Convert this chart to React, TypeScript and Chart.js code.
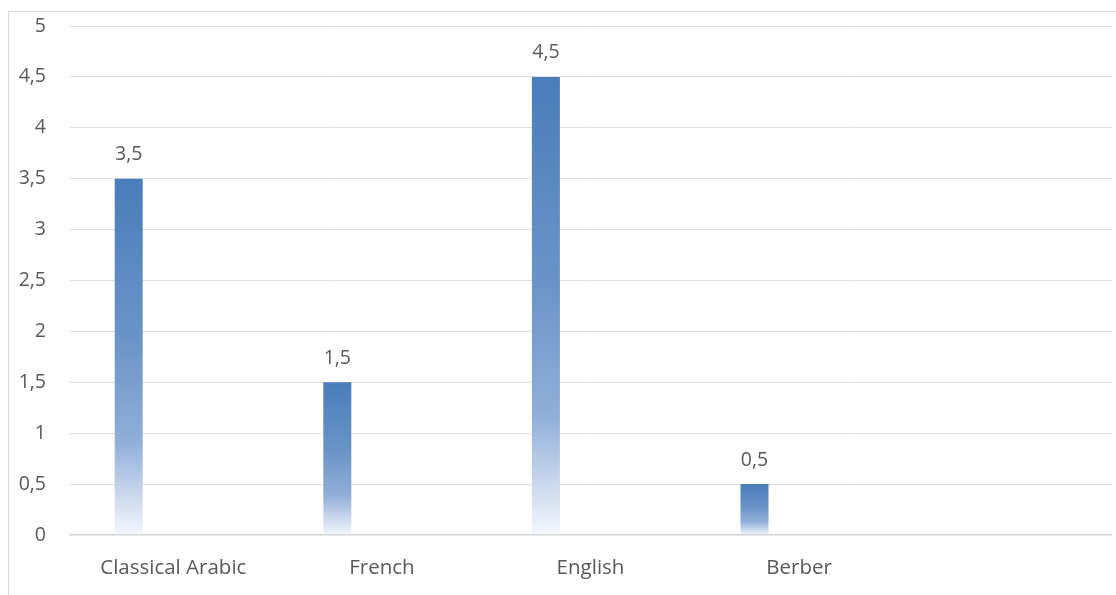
import React, { useEffect, useRef } from "react";
import { Chart, registerables } from "chart.js";

Chart.register(...registerables);

const categories = ["Classical Arabic", "French", "English", "Berber", ""];
const values = [3.5, 1.5, 4.5, 0.5, null];
const emptySeries = [null, null, null, null, null];
const yTicks = [0, 0.5, 1, 1.5, 2, 2.5, 3, 3.5, 4, 4.5, 5];

const FONT = "'Open Sans', sans-serif";
const FSIZE = 19.5;
const XSIZE = 20.5;
const TEXT = "#595959";

const fmt = (v: number) => String(v).replace(".", ",");

const labelPlugin = {
  id: "valueLabels",
  afterDatasetsDraw(chart: any) {
    const ctx = chart.ctx;
    const meta = chart.getDatasetMeta(0);
    ctx.save();
    ctx.font = `${FSIZE}px ${FONT}`;
    ctx.fillStyle = TEXT;
    ctx.textAlign = "center";
    ctx.textBaseline = "middle";
    meta.data.forEach((el: any, i: number) => {
      const v = values[i];
      if (v == null) return;
      ctx.fillText(fmt(v), el.x, el.y - 24);
    });
    ctx.restore();
  },
};

export default function App() {
  const ref = useRef<HTMLCanvasElement>(null);
  useEffect(() => {
    document.body.style.margin = "0";
    const canvas = ref.current!;
    const chart = new Chart(canvas, {
      type: "bar",
      data: {
        labels: categories,
        datasets: [
          {
            data: values as any,
            backgroundColor: (c: any) => {
              const ch = c.chart;
              const ys = ch.scales?.y;
              const v = c.raw;
              if (!ys || v == null) return "#4f81bd";
              const top = ys.getPixelForValue(v);
              const bottom = ys.getPixelForValue(0);
              if (!isFinite(top) || !isFinite(bottom) || top === bottom) return "#4f81bd";
              const g = ch.ctx.createLinearGradient(0, top, 0, bottom);
              g.addColorStop(0, "#4a7dbb");
              g.addColorStop(0.45, "#6a94c7");
              g.addColorStop(0.74, "#90afd9");
              g.addColorStop(0.88, "#c6d6ec");
              g.addColorStop(1, "#f4f7fc");
              return g;
            },
            borderWidth: 0,
            categoryPercentage: 0.855,
            barPercentage: 0.314,
          },
          {
            data: emptySeries as any,
            backgroundColor: "#ffffff",
            categoryPercentage: 0.855,
            barPercentage: 0.314,
          },
        ],
      },
      options: {
        animation: false,
        responsive: false,
        maintainAspectRatio: false,
        layout: { padding: { left: 0, top: 26, right: 4, bottom: 0 } },
        plugins: {
          legend: { display: false },
          tooltip: { enabled: false },
        },
        scales: {
          x: {
            grid: { display: false, drawTicks: false },
            border: { display: false },
            ticks: {
              color: TEXT,
              font: { family: FONT, size: XSIZE },
              padding: 21,
              maxRotation: 0,
              autoSkip: false,
            },
            afterFit: (s: any) => {
              s.height = 60;
              s.paddingLeft = 0;
              s.paddingRight = 0;
            },
          },
          y: {
            min: 0,
            max: 5,
            afterBuildTicks: (s: any) => {
              s.ticks = yTicks.map((v) => ({ value: v }));
            },
            grid: {
              color: (c: any) => (c.tick && c.tick.value === 0 ? "#d0d0d0" : "#e0e0e0"),
              lineWidth: (c: any) => (c.tick && c.tick.value === 0 ? 1.5 : 1),
              drawTicks: false,
            },
            border: { display: false },
            ticks: {
              color: TEXT,
              font: { family: FONT, size: FSIZE },
              padding: 23,
              callback: (v: any) => fmt(Number(v)),
            },
            afterFit: (s: any) => {
              s.width = 69;
              s.paddingTop = 0;
              s.paddingBottom = 0;
            },
          },
        },
      },
      plugins: [labelPlugin],
    });
    return () => chart.destroy();
  }, []);

  return (
    <div style={{ position: "relative", width: 1116, height: 595, overflow: "hidden", background: "#fff" }}>
      <div
        style={{
          position: "absolute",
          left: 8,
          top: 11,
          width: 1200,
          height: 700,
          borderLeft: "1.5px solid #d9d9d9",
          borderTop: "1.5px solid #d9d9d9",
          boxSizing: "border-box",
        }}
      />
      <canvas ref={ref} width={1116} height={595} style={{ position: "absolute", left: 0, top: 0 }} />
    </div>
  );
}
